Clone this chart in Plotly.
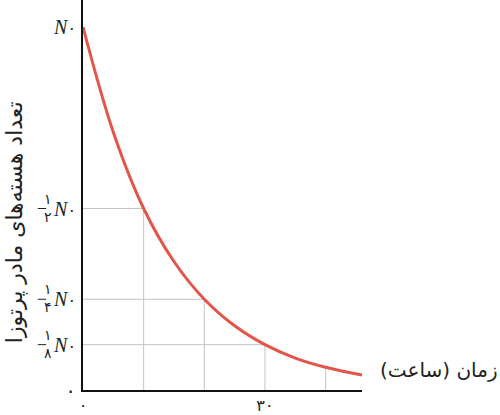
import plotly.graph_objects as go

# readings (time in hours, fraction of N0)
t_hours = [0, 5, 10, 15, 20, 25, 30, 35, 40, 46]
n_frac = [1.0, 0.71, 0.5, 0.354, 0.25, 0.177, 0.125, 0.088, 0.0625, 0.041]

# guide lines drawn at the half-life points
guide_t = [10, 20, 30, 40]
guide_n = [0.5, 0.25, 0.125, 0.0625]
guide_horiz = [True, True, True, False]

n0 = "<i>N</i><span style='font-size:16px'>۰</span>"
y_ticks = [0, 0.125, 0.25, 0.5, 1.0]
y_ticktext = ["۰", n0, n0, n0, n0]
frac_den = {0.5: "۲", 0.25: "۴", 0.125: "۸"}
x_ticks = [0, 30]
x_ticktext = ["۰", "۳۰"]

y_title = "تعداد هسته‌های مادر پرتوزا"
x_title = "زمان (ساعت)"

grid_col = "#c4c4c4"
fig = go.Figure()

for t, n, h in zip(guide_t, guide_n, guide_horiz):
    if h:
        fig.add_trace(go.Scatter(x=[0, t], y=[n, n], mode="lines",
                                 line=dict(color=grid_col, width=1), hoverinfo="skip"))
    fig.add_trace(go.Scatter(x=[t, t], y=[n, 0], mode="lines",
                             line=dict(color=grid_col, width=1), hoverinfo="skip"))

fig.add_trace(go.Scatter(x=t_hours, y=n_frac, mode="lines",
                         line=dict(color="#e2554b", width=3, shape="spline")))

fig.update_layout(
    width=500, height=415,
    margin=dict(l=83, r=138, t=0, b=25),
    plot_bgcolor="white", paper_bgcolor="white",
    showlegend=False,
    font=dict(family="DejaVu Sans", color="#222"),
)
fig.update_xaxes(range=[0, 46], showgrid=False, zeroline=False,
                 showline=True, linecolor="#111", linewidth=2,
                 tickmode="array", tickvals=x_ticks, ticktext=x_ticktext,
                 ticks="", tickfont=dict(size=16, family="DejaVu Sans"))
fig.update_yaxes(range=[0, 1.0744], showgrid=False, zeroline=False,
                 showline=True, linecolor="#111", linewidth=2,
                 tickmode="array", tickvals=y_ticks, ticktext=y_ticktext,
                 ticks="", ticklabelstandoff=1,
                 tickfont=dict(size=20, family="Liberation Serif, DejaVu Sans"))

# stacked fractions in front of N0
for v, den in frac_den.items():
    fig.add_annotation(x=-0.147, xref="paper", y=v, yref="y", yshift=1,
                       text="۱<br>" + den, showarrow=False,
                       font=dict(size=14, family="DejaVu Sans"))
    fig.add_shape(type="line", xref="paper", yref="y", x0=-0.162, x1=-0.132,
                  y0=v, y1=v, line=dict(color="#222", width=1))

fig.add_annotation(x=-0.244, xref="paper", xanchor="center",
                   y=0.43, yref="paper", text=y_title, textangle=-90,
                   showarrow=False, font=dict(size=22, family="DejaVu Sans"))
fig.add_annotation(x=1, xref="paper", xanchor="left", xshift=16,
                   y=0, yref="paper", yshift=6, text=x_title,
                   showarrow=False, font=dict(size=20, family="DejaVu Sans"))

fig.write_html("out.html", config={"displayModeBar": False},
               post_script="document.body.style.margin='0';")
